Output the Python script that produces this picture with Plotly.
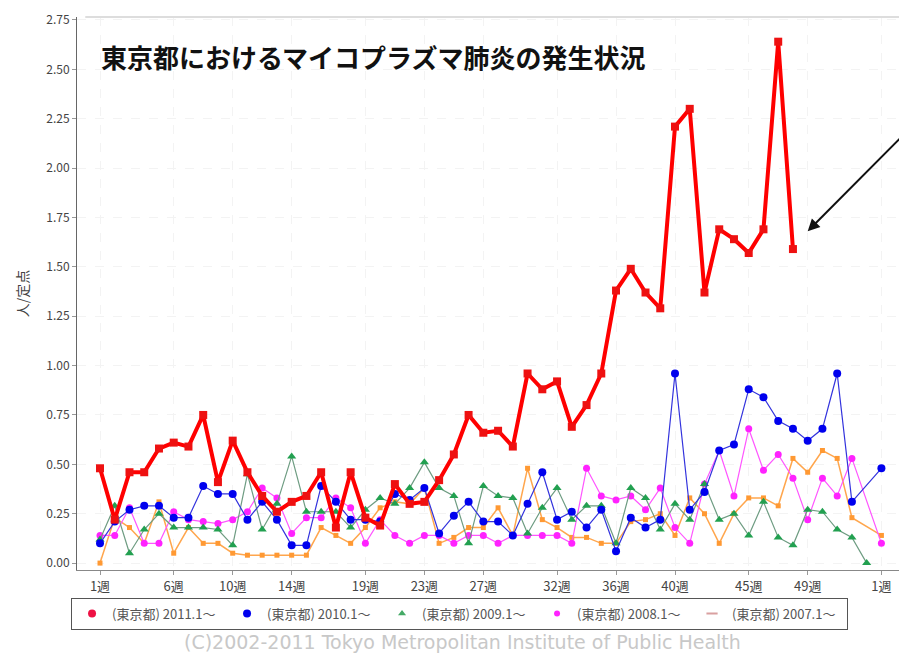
import plotly.graph_objects as go

weeks = list(range(1, 55))
tick_vals = [1, 6, 10, 14, 19, 23, 27, 32, 36, 40, 45, 49, 54]
tick_text = ["1週", "6週", "10週", "14週", "19週", "23週", "27週", "32週", "36週", "40週", "45週", "49週", "1週"]
y_ticks = [0, 0.25, 0.5, 0.75, 1.0, 1.25, 1.5, 1.75, 2.0, 2.25, 2.5, 2.75]

names = ["(東京都) 2011.1～", "(東京都) 2010.1～", "(東京都) 2009.1～", "(東京都) 2008.1～", "(東京都) 2007.1～"]

y2011 = [0.48, 0.22, 0.46, 0.46, 0.58, 0.61, 0.59, 0.75, 0.41, 0.62,
         0.46, 0.34, 0.26, 0.31, 0.34, 0.46, 0.18, 0.46, 0.23, 0.19,
         0.40, 0.30, 0.31, 0.42, 0.55, 0.75, 0.66, 0.67, 0.59, 0.96,
         0.88, 0.92, 0.69, 0.80, 0.96, 1.38, 1.49, 1.37, 1.29, 2.21,
         2.30, 1.37, 1.69, 1.64, 1.57, 1.69, 2.64, 1.59]
y2010 = [0.10, 0.21, 0.27, 0.29, 0.29, 0.23, 0.23, 0.39, 0.35, 0.35,
         0.22, 0.31, 0.22, 0.09, 0.09, 0.39, 0.31, 0.22, 0.22, 0.21,
         0.35, 0.32, 0.38, 0.15, 0.24, 0.31, 0.21, 0.21, 0.14, 0.30,
         0.46, 0.22, 0.26, 0.18, 0.27, 0.06, 0.23, 0.18, 0.22, 0.96,
         0.27, 0.36, 0.57, 0.60, 0.88, 0.84, 0.72, 0.68, 0.62, 0.68,
         0.96, 0.31, None, 0.48]
y2009 = [0.12, 0.29, 0.05, 0.17, 0.25, 0.18, 0.18, 0.18, 0.17, 0.09,
         0.45, 0.17, 0.30, 0.54, 0.26, 0.26, 0.26, 0.18, 0.27, 0.33,
         0.30, 0.38, 0.51, 0.38, 0.34, 0.10, 0.39, 0.34, 0.33, 0.15,
         0.28, 0.38, 0.22, 0.29, 0.29, 0.10, 0.38, 0.33, 0.17, 0.30,
         0.22, 0.40, 0.22, 0.25, 0.14, 0.31, 0.13, 0.09, 0.27, 0.26,
         0.17, 0.13, 0.00]
y2008 = [0.14, 0.14, 0.28, 0.10, 0.10, 0.26, 0.22, 0.21, 0.20, 0.22,
         0.26, 0.38, 0.33, 0.15, 0.23, 0.23, 0.33, 0.28, 0.10, 0.22,
         0.14, 0.10, 0.14, 0.14, 0.10, 0.14, 0.14, 0.10, 0.14, 0.14,
         0.14, 0.14, 0.10, 0.48, 0.34, 0.32, 0.34, 0.27, 0.38, 0.18,
         0.10, 0.40, 0.57, 0.34, 0.68, 0.47, 0.55, 0.43, 0.22, 0.43,
         0.34, 0.53, None, 0.10]
y2007 = [0.00, 0.23, 0.18, 0.10, 0.31, 0.05, 0.18, 0.10, 0.10, 0.05,
         0.04, 0.04, 0.04, 0.04, 0.04, 0.18, 0.14, 0.10, 0.18, 0.28,
         0.31, 0.30, 0.38, 0.10, 0.13, 0.18, 0.18, 0.28, 0.14, 0.48,
         0.22, 0.18, 0.13, 0.13, 0.10, 0.10, 0.21, 0.22, 0.25, 0.14,
         0.33, 0.25, 0.10, 0.25, 0.33, 0.33, 0.29, 0.53, 0.46, 0.57,
         0.53, 0.23, None, 0.14]

fig = go.Figure()

series = [
    (y2007, 4, dict(color="#FFA64D", width=1.5), dict(symbol="square", size=5, color="#FF9933")),
    (y2008, 3, dict(color="#FF55FF", width=1.2), dict(symbol="circle", size=7, color="#FF22FF")),
    (y2009, 2, dict(color="#6E9C82", width=1.2), dict(symbol="triangle-up", size=8, color="#22A050")),
    (y2010, 1, dict(color="#3333DD", width=1.2), dict(symbol="circle", size=8, color="#0000EE")),
    (y2011, 0, dict(color="#FF0000", width=4), dict(symbol="square", size=8, color="#EE1111")),
]
for ys, idx, ln, mk in series:
    fig.add_trace(go.Scatter(x=weeks[:len(ys)], y=ys, name=names[idx], mode="lines+markers",
                             connectgaps=True, showlegend=False, line=ln, marker=mk))

# legend-only entries (marker symbols as in the original legend)
legend_markers = [
    dict(symbol="circle", size=8, color="#EE1144"),
    dict(symbol="circle", size=8, color="#0000EE"),
    dict(symbol="triangle-up", size=7, color="#44AA66"),
    dict(symbol="circle", size=6, color="#FF22FF"),
    dict(symbol="line-ew-open", size=8, color="#D9A0A0", line=dict(width=2, color="#D9A0A0")),
]
for i, mk in enumerate(legend_markers):
    fig.add_trace(go.Scatter(x=[None], y=[None], name=names[i], mode="markers",
                             marker=mk, showlegend=True, legendrank=i + 1))

font_fam = "Noto Sans CJK JP, DejaVu Sans, sans-serif"

fig.update_layout(
    width=899, height=646,
    margin=dict(l=69, r=2, t=5, b=84),
    paper_bgcolor="white", plot_bgcolor="white",
    font=dict(family=font_fam, size=12, color="#444444"),
    showlegend=True,
    legend=dict(orientation="h", x=0.462, xanchor="center", y=-0.05, yanchor="top",
                bordercolor="#555555", borderwidth=1, bgcolor="white",
                font=dict(size=13, color="#555555"), itemwidth=30,
                entrywidth=110, entrywidthmode="pixels", tracegroupgap=0),
    xaxis=dict(range=[-0.56, 55.6], tickmode="array", tickvals=tick_vals, ticktext=tick_text,
               showgrid=True, gridcolor="#F3F3F3", griddash="dash", gridwidth=1,
               zeroline=False, showline=True, linecolor="#888888", linewidth=1,
               ticks="outside", ticklen=4, tickcolor="#999999",
               tickfont=dict(size=13, color="#444444")),
    yaxis=dict(range=[-0.035, 2.765], tickmode="array", tickvals=y_ticks, tickformat=".2f",
               showgrid=True, gridcolor="#F3F3F3", griddash="dash", gridwidth=1,
               zeroline=False, showline=True, linecolor="#666666", linewidth=1,
               ticks="outside", ticklen=4, tickcolor="#999999", ticklabeloverflow="allow",
               tickfont=dict(size=12, color="#444444"),
               title=dict(text="人/定点", font=dict(size=14, color="#444444"), standoff=14)),
)

fig.add_shape(type="line", xref="paper", yref="paper", x0=0.01, x1=1, y0=1, y1=1,
              line=dict(color="#DDDDDD", width=2))

fig.add_annotation(text="<b>東京都におけるマイコプラズマ肺炎の発生状況</b>",
                   xref="paper", yref="paper", x=0.027, y=0.929, xanchor="left", yanchor="middle",
                   showarrow=False, font=dict(size=26, color="#111111", family=font_fam))

fig.add_annotation(x=49.0, y=1.68, xref="x", yref="y", text="", showarrow=True,
                   arrowhead=2, arrowsize=1.2, arrowwidth=2, arrowcolor="#111111",
                   ax=100, ay=-100)

fig.add_annotation(text="(C)2002-2011 Tokyo Metropolitan Institute of Public Health",
                   xref="paper", yref="paper", x=0.466, y=-0.131, xanchor="center", yanchor="middle",
                   showarrow=False, font=dict(size=19, color="#C8C8C8", family="DejaVu Sans, sans-serif"))

fig.write_html("out.html")
